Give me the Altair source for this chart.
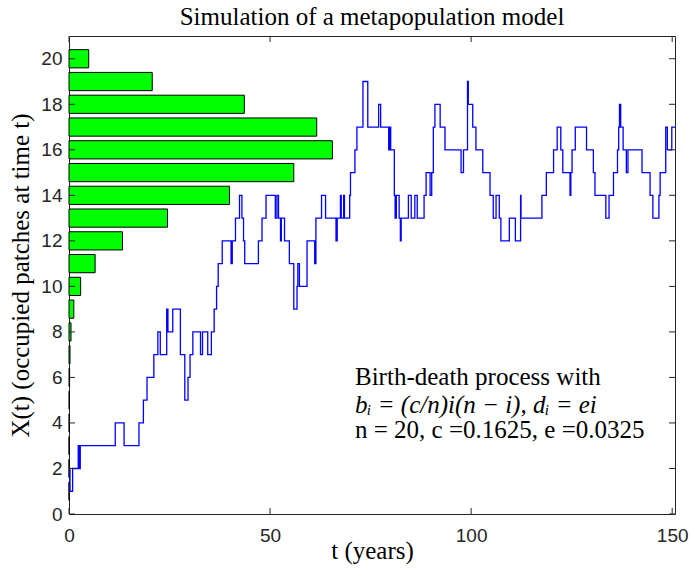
import altair as alt
import pandas as pd

# ---- data ----
STEP_T = [0, 0.25, 0.9, 2.3, 2.6, 2.8, 11.5, 13.7, 17.4, 18.5, 19.4, 21.1, 22.1, 22.7,
          24.3, 24.6, 25.8, 27.7, 28.8, 29.6, 30.1, 30.8, 32.7, 33.2, 34.5, 35.4, 36.1,
          36.7, 37.1, 38.1, 40.3, 40.6, 41.4, 42.4, 43.0, 43.4, 43.7, 47.1, 48.0, 49.0,
          51.3, 51.7, 52.1, 52.6, 52.8, 53.6, 54.8, 55.9, 56.7, 56.9, 57.3, 59.2, 61.1,
          61.4, 62.8, 63.8, 66.4, 66.7, 67.5, 67.7, 68.3, 68.5, 69.8, 70.0, 71.1, 71.6,
          73.1, 74.3, 77.0, 77.5, 79.5, 79.8, 80.0, 80.9, 81.1, 81.4, 82.1, 82.4, 82.6,
          84.4, 85.1, 86.0, 86.6, 88.3, 88.8, 89.8, 90.2, 90.6, 91.0, 92.3, 93.5, 97.5,
          98.1, 99.1, 99.3, 100.4, 101.2, 102.9, 104.7, 105.5, 106.2, 107.0, 107.4, 109.5,
          111.0, 112.3, 112.4, 117.6, 118.7, 120.5, 121.4, 122.3, 122.8, 124.6, 124.8,
          125.1, 125.9, 128.7, 130.4, 130.8, 133.5, 134.3, 135.4, 136.4, 136.7, 136.9,
          137.2, 137.8, 138.6, 139.0, 142.5, 144.5, 145.2, 146.7, 147.0, 148.4, 148.8,
          149.9, 151.0]
STEP_X = [2, 1, 2, 3, 2, 3, 4, 3, 4, 5, 6, 7, 8, 7,
          9, 8, 9, 7, 5, 6, 7, 8, 7, 8, 7, 8, 9,
          10, 11, 12, 11, 12, 13, 14, 13, 12, 11, 12, 13, 14,
          13, 14, 13, 12, 13, 12, 11, 9, 10, 11, 10, 12, 11,
          13, 14, 13, 12, 13, 14, 13, 14, 13, 14, 15, 16, 17,
          19, 17, 18, 17, 16, 17, 16, 14, 13, 14, 13, 12, 13,
          14, 13, 14, 13, 14, 15, 14, 15, 17, 18, 17, 16, 15,
          16, 19, 18, 17, 16, 15, 14, 13, 14, 13, 12, 13,
          12, 14, 13, 14, 15, 16, 17, 16, 15, 14, 15,
          16, 17, 16, 15, 14, 13, 14, 15, 16, 17, 18,
          17, 16, 15, 16, 15, 14, 13, 14, 15, 17, 16,
          17, 17]

STATES = list(range(1, 21))
BAR_LEN = [0.02, 0.03, 0.05, 0.08, 0.1, 0.15, 0.25, 0.5, 1.2, 2.9,
           6.5, 13.3, 24.5, 39.9, 55.9, 65.5, 61.6, 43.6, 20.7, 4.9]

XTICKS = [0, 50, 100, 150]
YTICKS = [0, 2, 4, 6, 8, 10, 12, 14, 16, 18, 20]

TITLE = "Simulation of a metapopulation model"
XLABEL = "t (years)"
YLABEL = "X(t) (occupied patches at time t)"
ANNOT = ["Birth-death process with",
         "b\u1d62 = (c/n)i(n \u2212 i), d\u1d62 = ei",
         "n = 20, c =0.1625, e =0.0325"]

# ---- chart ----
W, H = 606, 478
AX = "#262626"
SERIF = "Liberation Serif"
SANS = "Liberation Sans"
xs = alt.Scale(domain=[0, 150.7], nice=False, zero=False)
ys = alt.Scale(domain=[0, 21], nice=False, zero=False)

XAXIS = alt.Axis(
    values=XTICKS, title=XLABEL, grid=False, domain=False, ticks=False, tickSize=0,
    labelFont=SANS, labelFontSize=19, labelColor=AX, labelPadding=12,
    labelFlush=False,
    titleFont=SERIF, titleFontSize=25, titleFontWeight="normal",
    titleColor="#000000", titleX=303, titleY=44, titleBaseline="alphabetic",
    titleAlign="center")
YAXIS = alt.Axis(
    values=YTICKS, title=YLABEL, grid=False, domain=False, ticks=False, tickSize=0,
    labelFont=SANS, labelFontSize=19, labelColor=AX, labelPadding=7,
    labelFlush=False,
    titleFont=SERIF, titleFontSize=25, titleFontWeight="normal",
    titleColor="#000000", titleX=-49, titleY=239, titleAngle=270,
    titleBaseline="middle", titleAlign="center")

line_df = pd.DataFrame({"t": STEP_T, "x": STEP_X})
bar_df = pd.DataFrame({"state": STATES, "len": BAR_LEN})
xt_df = pd.DataFrame({"t": XTICKS})
yt_df = pd.DataFrame({"v": YTICKS})

bars = alt.Chart(bar_df).transform_calculate(
    lo="datum.state - 0.4", hi="datum.state + 0.4", zero="0"
).mark_rect(fill="#00FF00", stroke="#000000", strokeWidth=1).encode(
    x=alt.X("zero:Q", scale=xs, axis=XAXIS),
    x2="len:Q",
    y=alt.Y("lo:Q", scale=ys, axis=YAXIS),
    y2="hi:Q",
)

line = alt.Chart(line_df).mark_line(
    interpolate="step-after", color="#0000FF", strokeWidth=1.3, clip=True
).encode(
    x=alt.X("t:Q", scale=xs, axis=XAXIS),
    y=alt.Y("x:Q", scale=ys, axis=YAXIS),
)

tick_style = dict(color=AX, strokeWidth=1)
tick_b = alt.Chart(xt_df).mark_rule(**tick_style).encode(
    x=alt.X("t:Q", scale=xs, axis=XAXIS), y=alt.value(H), y2=alt.value(H - 6))
tick_t = alt.Chart(xt_df).mark_rule(**tick_style).encode(
    x=alt.X("t:Q", scale=xs, axis=XAXIS), y=alt.value(0), y2=alt.value(6))
tick_l = alt.Chart(yt_df).mark_rule(**tick_style).encode(
    y=alt.Y("v:Q", scale=ys, axis=YAXIS), x=alt.value(0), x2=alt.value(6))
tick_r = alt.Chart(yt_df).mark_rule(**tick_style).encode(
    y=alt.Y("v:Q", scale=ys, axis=YAXIS), x=alt.value(W), x2=alt.value(W - 6))


def label(text, x, y, align="left", style="normal"):
    return alt.Chart(pd.DataFrame({"s": [text]})).mark_text(
        align=align, baseline="alphabetic", font=SERIF,
        fontSize=25, color="#000000", fontStyle=style
    ).encode(text="s:N", x=alt.value(x), y=alt.value(y))


chart = alt.layer(
    bars, line, tick_b, tick_t, tick_l, tick_r,
    label(ANNOT[0], 286, 349), label(ANNOT[1], 286, 377, style="italic"),
    label(ANNOT[2], 286, 402),
    label(TITLE, W / 2, -11, align="center"),
).properties(
    width=W, height=H,
    autosize=alt.AutoSizeParams(type="none"),
    padding={"left": 69, "top": 36, "right": 15, "bottom": 59},
).configure_view(stroke=AX, strokeWidth=1).configure_axis(
    titleFont=SERIF, titleFontSize=25, titleFontWeight="normal", titleColor="#000000",
    labelFont=SANS, labelFontSize=19, labelColor=AX,
)

chart.save("out.html", embed_options={"renderer": "svg", "actions": False})
